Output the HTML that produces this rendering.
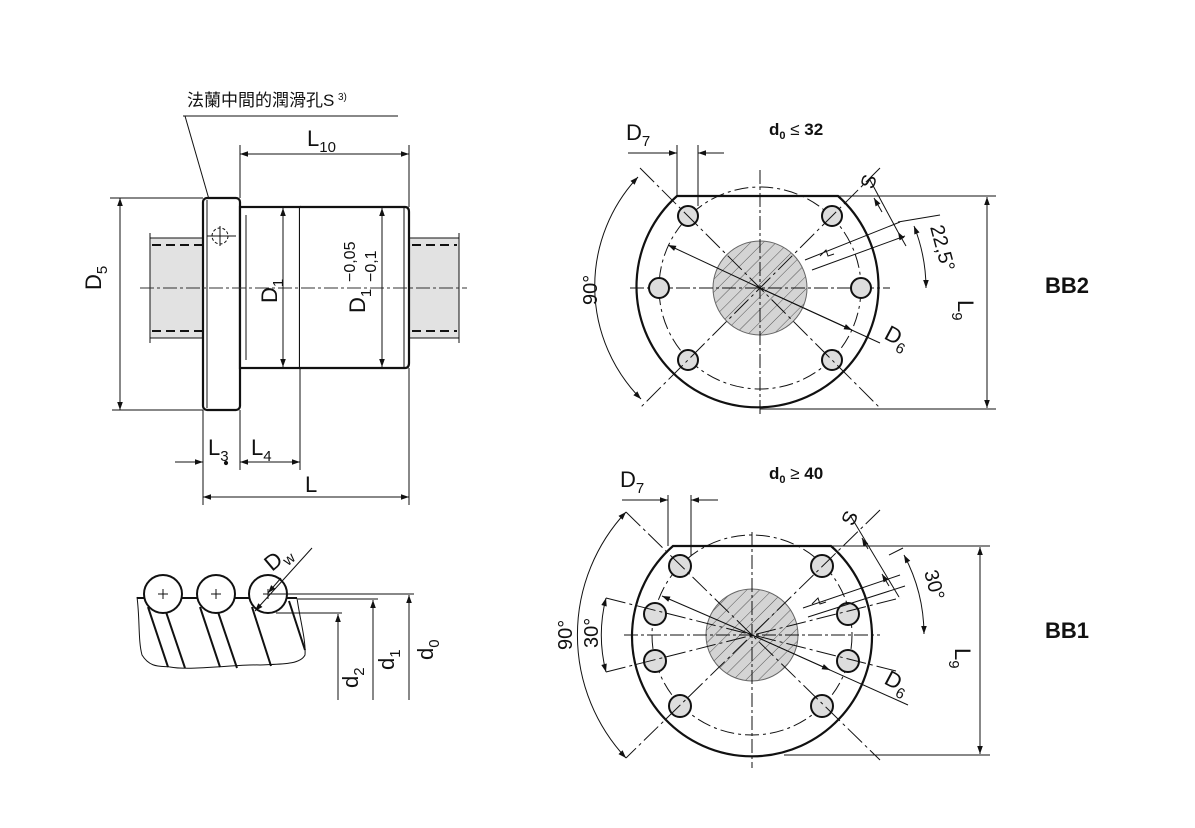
<!DOCTYPE html>
<html><head><meta charset="utf-8"><style>
html,body{margin:0;padding:0;background:#fff}
svg{display:block}
text{font-family:"Liberation Sans","Noto Sans CJK TC",sans-serif;fill:#111}
</style></head><body>
<svg width="1195" height="828" viewBox="0 0 1195 828" xmlns="http://www.w3.org/2000/svg">
<defs>
<marker id="a" viewBox="0 0 10 10" refX="10" refY="5" markerWidth="12" markerHeight="8" orient="auto-start-reverse" markerUnits="userSpaceOnUse"><path d="M0,1.5 L10,5 L0,8.5 z" fill="#111"/></marker>
<pattern id="h" width="9" height="9" patternUnits="userSpaceOnUse" patternTransform="rotate(45)"><rect width="9" height="9" fill="#d4d4d4"/><line x1="0" y1="0" x2="0" y2="9" stroke="#555" stroke-width="1"/></pattern>
</defs>
<g stroke="#111" fill="none" stroke-width="1">
<text x="187" y="106" font-size="17" stroke="none">法蘭中間的潤滑孔S</text>
<text x="338" y="100" font-size="10" stroke="none">3)</text>
<line x1="183" y1="116" x2="398" y2="116"/>
<line x1="185" y1="116" x2="219" y2="234"/>
<rect x="150" y="238" width="53" height="100" fill="#e2e2e2" stroke="none"/>
<rect x="409" y="238" width="50" height="100" fill="#e2e2e2" stroke="none"/>
<line x1="150" y1="238" x2="203" y2="238"/><line x1="150" y1="338" x2="203" y2="338"/>
<line x1="409" y1="238" x2="459" y2="238"/><line x1="409" y1="338" x2="459" y2="338"/>
<line x1="150" y1="233" x2="150" y2="343"/><line x1="459" y1="233" x2="459" y2="343"/>
<line x1="152" y1="245" x2="203" y2="245" stroke-dasharray="9,5" stroke-width="2"/>
<line x1="152" y1="331" x2="203" y2="331" stroke-dasharray="9,5" stroke-width="2"/>
<line x1="412" y1="245" x2="457" y2="245" stroke-dasharray="9,5" stroke-width="2"/>
<line x1="412" y1="331" x2="457" y2="331" stroke-dasharray="9,5" stroke-width="2"/>
<rect x="203" y="198" width="37" height="212" rx="4" stroke-width="2.2" fill="#fff"/>
<line x1="207" y1="200" x2="207" y2="408"/>
<rect x="240" y="207" width="60" height="161" stroke-width="2.2" fill="#fff"/>
<path d="M300,207 H405 Q409,207 409,212 V363 Q409,368 405,368 H300" stroke-width="2.2" fill="#fff"/>
<line x1="404" y1="208" x2="404" y2="367"/>
<line x1="246" y1="215" x2="246" y2="360"/>
<circle cx="220" cy="236" r="8" stroke-dasharray="3,2"/>
<line x1="207" y1="236" x2="236" y2="236"/><line x1="220" y1="226" x2="220" y2="246"/>
<line x1="140" y1="288" x2="467" y2="288" stroke-dasharray="14,3,3,3" stroke="#333"/>
<line x1="110" y1="198" x2="203" y2="198"/><line x1="112" y1="410" x2="203" y2="410"/>
<line x1="120" y1="198" x2="120" y2="410" marker-start="url(#a)" marker-end="url(#a)"/>
<text transform="translate(101,290) rotate(-90)" font-size="22" stroke="none">D<tspan font-size="15" dy="6">5</tspan></text>
<line x1="283" y1="208" x2="283" y2="367" marker-start="url(#a)" marker-end="url(#a)"/>
<text transform="translate(277,303) rotate(-90)" font-size="22" stroke="none">D<tspan font-size="15" dy="6">1</tspan></text>
<line x1="382" y1="208" x2="382" y2="367" marker-start="url(#a)" marker-end="url(#a)"/>
<text transform="translate(365,313) rotate(-90)" font-size="22" stroke="none">D<tspan font-size="15" dy="6">1</tspan></text>
<text transform="translate(355,282) rotate(-90)" font-size="16" stroke="none">−0,05</text>
<text transform="translate(376,282) rotate(-90)" font-size="16" stroke="none">−0,1</text>
<line x1="240" y1="145" x2="240" y2="198"/><line x1="409" y1="145" x2="409" y2="207"/>
<line x1="240" y1="154" x2="409" y2="154" marker-start="url(#a)" marker-end="url(#a)"/>
<text x="307" y="146" font-size="22" stroke="none">L<tspan font-size="15" dy="6">10</tspan></text>
<line x1="203" y1="410" x2="203" y2="505"/><line x1="240" y1="410" x2="240" y2="470"/>
<line x1="300" y1="368" x2="300" y2="470"/><line x1="409" y1="368" x2="409" y2="505"/>
<line x1="175" y1="462" x2="203" y2="462" marker-end="url(#a)"/>
<line x1="240" y1="462" x2="300" y2="462" marker-start="url(#a)" marker-end="url(#a)"/>
<circle cx="226" cy="463" r="1.6" fill="#111"/>
<text x="208" y="455" font-size="22" stroke="none">L<tspan font-size="15" dy="6">3</tspan></text>
<text x="251" y="455" font-size="22" stroke="none">L<tspan font-size="15" dy="6">4</tspan></text>
<line x1="203" y1="497" x2="409" y2="497" marker-start="url(#a)" marker-end="url(#a)"/>
<text x="305" y="492" font-size="22" stroke="none">L</text>

<path d="M137,597 C140,620 138,640 142,655 C150,668 160,666 170,667 C190,671 240,664 260,665 C280,664 300,665 305,655 C306,640 300,620 297,598" fill="#fff"/>
<line x1="137" y1="598" x2="297" y2="598" stroke-width="2"/>
<g stroke-width="2">
<line x1="148" y1="607" x2="168" y2="667"/><line x1="165" y1="609" x2="185" y2="668"/>
<line x1="200" y1="607" x2="220" y2="667"/><line x1="217" y1="609" x2="237" y2="668"/>
<line x1="252" y1="607" x2="271" y2="666"/><line x1="289" y1="601" x2="305" y2="650"/>
</g>
<circle cx="163" cy="594" r="19" fill="#fff" stroke-width="2"/>
<circle cx="216" cy="594" r="19" fill="#fff" stroke-width="2"/>
<circle cx="268" cy="594" r="19" fill="#fff" stroke-width="2"/>
<path d="M158,594h10M163,589v10M211,594h10M216,589v10M263,594h10M268,589v10"/>
<line x1="255" y1="611" x2="312" y2="548" marker-start="url(#a)"/>
<line x1="281" y1="578" x2="268" y2="593" marker-end="url(#a)"/>
<text transform="translate(272,572) rotate(-40)" font-size="22" stroke="none">D<tspan font-size="15" dy="6">w</tspan></text>
<line x1="272" y1="594" x2="414" y2="594"/><line x1="298" y1="599" x2="378" y2="599"/><line x1="276" y1="613" x2="342" y2="613"/>
<line x1="409" y1="700" x2="409" y2="595" marker-end="url(#a)"/>
<line x1="373" y1="700" x2="373" y2="600" marker-end="url(#a)"/>
<line x1="338" y1="700" x2="338" y2="614" marker-end="url(#a)"/>
<text transform="translate(358,688) rotate(-90)" font-size="22" stroke="none">d<tspan font-size="15" dy="6">2</tspan></text>
<text transform="translate(394,670) rotate(-90)" font-size="22" stroke="none">d<tspan font-size="15" dy="6">1</tspan></text>
<text transform="translate(433,660) rotate(-90)" font-size="22" stroke="none">d<tspan font-size="15" dy="6">0</tspan></text>

<text x="769" y="135" font-size="17" font-weight="bold" stroke="none">d<tspan font-size="11" dy="4">0</tspan><tspan dy="-4" font-weight="normal"> ≤ </tspan>32</text>
<path d="M677,196 H838 A121,121 0 1 1 677,196 Z" stroke-width="2.2" fill="#fff"/>
<circle cx="760" cy="288" r="101" stroke-dasharray="14,4,3,4"/>
<circle cx="760" cy="288" r="47" fill="url(#h)" stroke="#666"/>
<line x1="630" y1="288" x2="890" y2="288" stroke-dasharray="14,3,3,3"/>
<line x1="760" y1="170" x2="760" y2="415" stroke-dasharray="14,3,3,3"/>
<g fill="#ddd" stroke-width="2">
<circle cx="688" cy="216" r="10"/><circle cx="832" cy="216" r="10"/>
<circle cx="688" cy="360" r="10"/><circle cx="832" cy="360" r="10"/>
<circle cx="659" cy="288" r="10"/><circle cx="861" cy="288" r="10"/>
</g>
<path d="M640,168 L880,408 M880,168 L640,408" stroke-dasharray="20,4,3,4"/>
<line x1="760" y1="288" x2="668" y2="245" marker-end="url(#a)"/>
<line x1="760" y1="288" x2="880" y2="343"/>
<line x1="760" y1="288" x2="852" y2="330" marker-end="url(#a)"/>
<text transform="translate(883,338) rotate(28)" font-size="22" stroke="none">D<tspan font-size="15" dy="6">6</tspan></text>
<path d="M805,260 L900,222 M812,270 L905,236 M820,256 l6,-6 l2,6 l6,-2"/>
<line x1="870" y1="180" x2="898" y2="232"/><line x1="882" y1="212" x2="874" y2="198" marker-end="url(#a)"/><line x1="898" y1="232" x2="906" y2="246" marker-start="url(#a)"/>
<text transform="translate(873,190) rotate(-72)" font-size="20" stroke="none">S</text>
<line x1="898" y1="222" x2="940" y2="215"/>
<path d="M914,226 A170,170 0 0 1 926,288" marker-start="url(#a)" marker-end="url(#a)"/>
<text transform="translate(930,227) rotate(75)" font-size="20" stroke="none">22,5°</text>
<line x1="838" y1="196" x2="996" y2="196"/><line x1="760" y1="409" x2="996" y2="409"/>
<line x1="987" y1="197" x2="987" y2="408" marker-start="url(#a)" marker-end="url(#a)"/>
<text transform="translate(958,300) rotate(90)" font-size="22" stroke="none">L<tspan font-size="15" dy="6">9</tspan></text>
<path d="M638,177 A160,160 0 0 0 641,399" marker-start="url(#a)" marker-end="url(#a)"/>
<text transform="translate(597,305) rotate(-90)" font-size="20" stroke="none">90°</text>
<line x1="677" y1="145" x2="677" y2="196"/><line x1="698" y1="145" x2="698" y2="206"/>
<line x1="628" y1="153" x2="677" y2="153" marker-end="url(#a)"/><line x1="724" y1="153" x2="698" y2="153" marker-end="url(#a)"/>
<text x="626" y="140" font-size="22" stroke="none">D<tspan font-size="15" dy="6">7</tspan></text>
<text x="1045" y="293" font-size="22" font-weight="bold" stroke="none">BB2</text>

<text x="769" y="479" font-size="17" font-weight="bold" stroke="none">d<tspan font-size="11" dy="4">0</tspan><tspan dy="-4" font-weight="normal"> ≥ </tspan>40</text>
<path d="M673,546 H831 A120,120 0 1 1 673,546 Z" stroke-width="2.2" fill="#fff"/>
<circle cx="752" cy="635" r="100" stroke-dasharray="14,4,3,4"/>
<circle cx="752" cy="635" r="46" fill="url(#h)" stroke="#666"/>
<line x1="624" y1="635" x2="880" y2="635" stroke-dasharray="14,3,3,3"/>
<line x1="752" y1="532" x2="752" y2="768" stroke-dasharray="14,3,3,3"/>
<g fill="#ddd" stroke-width="2">
<circle cx="680" cy="566" r="11"/><circle cx="822" cy="566" r="11"/>
<circle cx="655" cy="614" r="11"/><circle cx="848" cy="614" r="11"/>
<circle cx="655" cy="661" r="11"/><circle cx="848" cy="661" r="11"/>
<circle cx="680" cy="706" r="11"/><circle cx="822" cy="706" r="11"/>
</g>
<path d="M626,512 L880,760 M880,510 L626,758 M606,598 L900,672 M606,672 L900,598" stroke-dasharray="20,4,3,4"/>
<line x1="752" y1="635" x2="662" y2="596" marker-end="url(#a)"/>
<line x1="752" y1="635" x2="908" y2="705"/>
<line x1="752" y1="635" x2="830" y2="670" marker-end="url(#a)"/>
<text transform="translate(883,683) rotate(28)" font-size="22" stroke="none">D<tspan font-size="15" dy="6">6</tspan></text>
<path d="M803,608 L900,575 M808,617 L905,586 M812,604 l6,-6 l2,6 l6,-2"/>
<line x1="850" y1="515" x2="899" y2="597"/><line x1="868" y1="549" x2="862" y2="538" marker-end="url(#a)"/><line x1="882" y1="574" x2="889" y2="586" marker-start="url(#a)"/>
<text transform="translate(853,527) rotate(-65)" font-size="20" stroke="none">S</text>
<line x1="889" y1="555" x2="903" y2="548"/>
<path d="M904,555 A170,170 0 0 1 924,634" marker-start="url(#a)" marker-end="url(#a)"/>
<text transform="translate(924,572) rotate(75)" font-size="20" stroke="none">30°</text>
<line x1="831" y1="546" x2="990" y2="546"/><line x1="784" y1="755" x2="990" y2="755"/>
<line x1="980" y1="547" x2="980" y2="754" marker-start="url(#a)" marker-end="url(#a)"/>
<text transform="translate(955,648) rotate(90)" font-size="22" stroke="none">L<tspan font-size="15" dy="6">9</tspan></text>
<path d="M626,512 A180,180 0 0 0 626,758" marker-start="url(#a)" marker-end="url(#a)"/>
<text transform="translate(572,650) rotate(-90)" font-size="20" stroke="none">90°</text>
<path d="M606,598 A150,150 0 0 0 606,672" marker-start="url(#a)" marker-end="url(#a)"/>
<text transform="translate(598,648) rotate(-90)" font-size="20" stroke="none">30°</text>
<line x1="668" y1="495" x2="668" y2="546"/><line x1="691" y1="495" x2="691" y2="556"/>
<line x1="622" y1="500" x2="668" y2="500" marker-end="url(#a)"/><line x1="718" y1="500" x2="691" y2="500" marker-end="url(#a)"/>
<text x="620" y="487" font-size="22" stroke="none">D<tspan font-size="15" dy="6">7</tspan></text>
<text x="1045" y="638" font-size="22" font-weight="bold" stroke="none">BB1</text>
</g>
</svg>
</body></html>
